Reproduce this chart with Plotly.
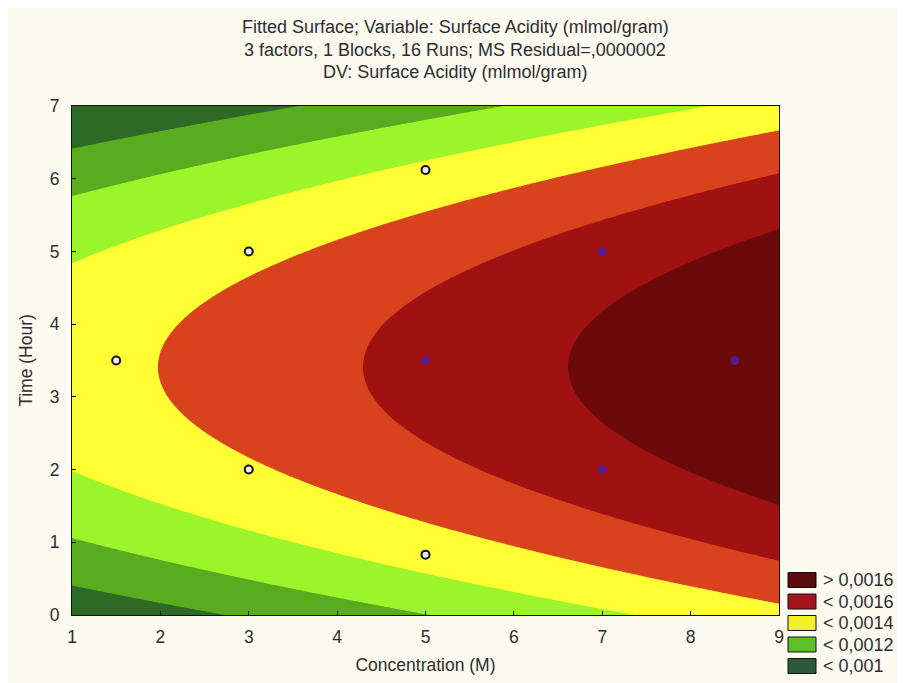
import numpy as np
import plotly.graph_objects as go

# ---------------- data ----------------
conc_ticks = [1, 2, 3, 4, 5, 6, 7, 8, 9]
time_ticks = [0, 1, 2, 3, 4, 5, 6, 7]

# fitted quadratic surface
surf_intercept = 0.001315      # value at conc=0 on the ridge
surf_conc_slope = 0.0000431    # linear effect of concentration
surf_time_center = 3.41        # ridge position in time
surf_time_curv = 0.0000286     # quadratic (negative) effect of time

# contour levels
level_start = 0.0011
level_end = 0.0016
level_step = 0.0001

# design points (light zone / dark zone)
pts_light_x = [1.5, 3, 3, 5, 5]
pts_light_y = [3.5, 5, 2, 6.12, 0.83]
pts_dark_x = [5, 7, 7, 8.5]
pts_dark_y = [3.5, 5, 2, 3.5]

band_colors = ["#2d6a25", "#5aac1f", "#9cf52a", "#ffff33", "#d8431d", "#a01212", "#6c0a0b"]

legend_labels = ["> 0,0016", "< 0,0016", "< 0,0014", "< 0,0012", "< 0,001"]
legend_colors = ["#5c0a0e", "#a3141c", "#f2f224", "#5cc126", "#2a5a38"]

title_lines = [
    "Fitted Surface; Variable: Surface Acidity (mlmol/gram)",
    "3 factors, 1 Blocks, 16 Runs; MS Residual=,0000002",
    "DV: Surface Acidity (mlmol/gram)",
]

# ---------------- figure ----------------
gx = np.linspace(1, 9, 401)
gy = np.linspace(0, 7, 351)
GX, GY = np.meshgrid(gx, gy)
Z = surf_intercept + surf_conc_slope * GX - surf_time_curv * (GY - surf_time_center) ** 2

n = len(band_colors)
cscale = []
for k, c in enumerate(band_colors):
    lo = max(0.0, (k - 0.5) / (n - 1))
    hi = min(1.0, (k + 0.5) / (n - 1))
    cscale.append([lo, c])
    cscale.append([hi, c])

fig = go.Figure()
fig.add_trace(go.Contour(
    x=gx, y=gy, z=Z,
    autocontour=False,
    contours=dict(start=level_start, end=level_end, size=level_step,
                  coloring="fill", showlines=False),
    colorscale=cscale, showscale=False, hoverinfo="skip",
    line=dict(width=0),
))
fig.add_trace(go.Scatter(
    x=pts_light_x, y=pts_light_y, mode="markers",
    marker=dict(symbol="circle", size=8, color="#eeeeee",
                line=dict(color="#111111", width=2)),
    showlegend=False, hoverinfo="skip",
))
fig.add_trace(go.Scatter(
    x=pts_dark_x, y=pts_dark_y, mode="markers",
    marker=dict(symbol="circle", size=8, color="#4a1ea6", opacity=0.85,
                line=dict(color="#5a1e90", width=1)),
    showlegend=False, hoverinfo="skip",
))

font_family = "Arial, Liberation Sans, sans-serif"
text_color = "#2e2e2e"

# page has an 8px body margin: work in page pixels, then subtract it
off = 8
W, H = 905 - off, 683 - off
plot_l, plot_r, plot_t, plot_b = 72, 779, 106, 615   # page pixels
pw, ph = plot_r - plot_l, plot_b - plot_t

shapes = []
annotations = []
row_centers = [580, 601.5, 623, 644.5, 666]
for lab, col, cy in zip(legend_labels, legend_colors, row_centers):
    shapes.append(dict(type="rect", xref="paper", yref="paper",
                       x0=(788 - plot_l) / pw, x1=(816 - plot_l) / pw,
                       y0=(plot_b - (cy + 7.5)) / ph, y1=(plot_b - (cy - 7.5)) / ph,
                       fillcolor=col, line=dict(color="#111111", width=1)))
    annotations.append(dict(xref="paper", yref="paper",
                            x=(821 - plot_l) / pw, y=(plot_b - cy) / ph,
                            xanchor="left", yanchor="middle", showarrow=False,
                            text=lab, font=dict(size=18, color=text_color, family=font_family)))

for line, py in zip(title_lines, [27, 50, 72]):
    annotations.append(dict(xref="paper", yref="paper",
                            x=(455 - plot_l) / pw, y=(plot_b - py) / ph,
                            xanchor="center", yanchor="middle", showarrow=False,
                            text=line, font=dict(size=18, color=text_color, family=font_family)))

fig.update_layout(
    width=W, height=H,
    margin=dict(l=plot_l - off, r=W - (plot_r - off), t=plot_t - off, b=H - (plot_b - off), pad=0),
    paper_bgcolor="#fbf9f0", plot_bgcolor="#fbf9f0",
    font=dict(family=font_family, size=17.5, color=text_color),
    shapes=shapes, annotations=annotations,
    showlegend=False,
)
fig.update_xaxes(
    range=[1, 9], tickvals=conc_ticks, ticktext=[str(v) for v in conc_ticks],
    showgrid=False, zeroline=False, showline=True, linecolor="#111111", linewidth=1,
    mirror=True, ticks="inside", ticklen=4, tickcolor="#111111", ticklabelstandoff=6,
    title=dict(text="Concentration (M)", font=dict(size=17.5), standoff=12),
)
fig.update_yaxes(
    range=[0, 7], tickvals=time_ticks, ticktext=[str(v) for v in time_ticks],
    showgrid=False, zeroline=False, showline=True, linecolor="#111111", linewidth=1,
    mirror=True, ticks="inside", ticklen=4, tickcolor="#111111", ticklabelstandoff=8,
    title=dict(text="Time (Hour)", font=dict(size=17.5), standoff=12),
)

fig.write_html("out.html")
